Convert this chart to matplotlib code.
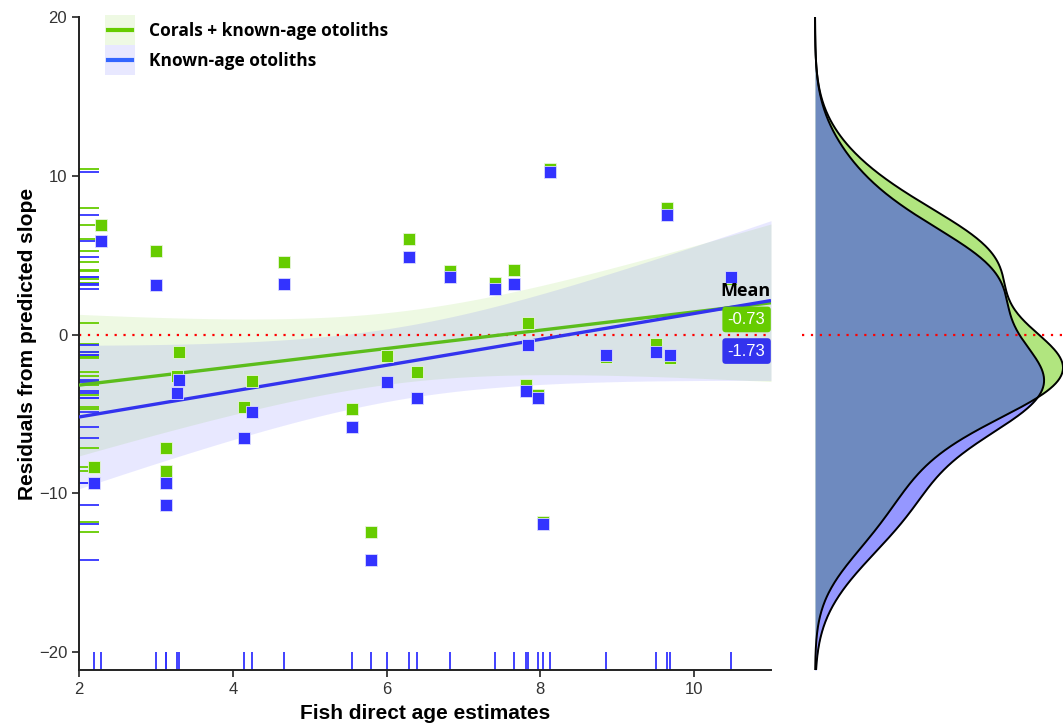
import numpy as np
import matplotlib
matplotlib.use("Agg")
from matplotlib import pyplot as plt
from matplotlib.patches import Rectangle
from matplotlib.lines import Line2D

# fish direct age estimates (x) and residuals for the two calibrations
age = [2.20, 2.29, 3.00, 3.13, 3.13, 3.28, 3.30, 4.14, 4.25, 4.66,
       5.55, 5.80, 6.00, 6.29, 6.40, 6.82, 7.41, 7.66, 7.81, 7.84,
       7.97, 8.03, 8.13, 8.85, 9.50, 9.65, 9.68, 10.48]
res_corals = [-8.36, 6.87, 5.29, -7.16, -8.61, -2.60, -1.07, -4.54, -2.90, 4.56,
              -4.68, -12.45, -1.34, 5.99, -2.37, 4.00, 3.24, 4.07, -3.19, 0.71,
              -3.82, -11.80, 10.45, -1.40, -0.59, 8.00, -1.45, 3.50]
res_known = [-9.35, 5.88, 3.09, -9.35, -10.73, -3.70, -2.84, -6.51, -4.91, 3.21,
             -5.84, -14.18, -3.00, 4.91, -3.97, 3.65, 2.86, 3.19, -3.53, -0.63,
             -3.97, -11.91, 10.23, -1.32, -1.07, 7.56, -1.32, 3.65]
series_names = ["Corals + known-age otoliths", "Known-age otoliths"]
mean_labels = [-0.73, -1.73]

green = "#66cc00"
blue = "#3333ff"
green_line = "#5cbd1c"
blue_line = "#3333ee"


class KeyHandler:
    # shaded key box with a line through its middle
    def __init__(self, fill, line):
        self.fill, self.line = fill, line

    def legend_artist(self, legend, orig_handle, fontsize, handlebox):
        x0, y0 = -handlebox.xdescent, -handlebox.ydescent
        w, h = handlebox.width, handlebox.height
        t = handlebox.get_transform()
        rect = Rectangle((x0, y0), w, h, fc=self.fill, alpha=0.11, lw=0, transform=t)
        ln = Line2D([x0 + 0.1 * w, x0 + 0.9 * w], [y0 + h / 2] * 2, color=self.line, lw=3, transform=t)
        handlebox.add_artist(rect)
        handlebox.add_artist(ln)
        return rect


W, H = 1063, 725
fig = plt.figure(figsize=(W / 100, H / 100), dpi=100)
ax = fig.add_axes([79 / W, 55 / H, 692 / W, 653 / H])
ax2 = fig.add_axes([802 / W, 55 / H, 261 / W, 653 / H])

x = np.array(age)
xs = np.linspace(2, 11, 200)
for ys, col, lcol in [(res_corals, green, green_line), (res_known, blue, blue_line)]:
    y = np.array(ys)
    b, a = np.polyfit(x, y, 1)
    fit = a + b * xs
    n = len(x)
    s = np.sqrt(np.sum((y - (a + b * x)) ** 2) / (n - 2))
    se = s * np.sqrt(1 / n + (xs - x.mean()) ** 2 / np.sum((x - x.mean()) ** 2))
    ax.fill_between(xs, fit - 2.056 * se, fit + 2.056 * se, color=col, alpha=0.11, lw=0, zorder=1)
    ax.plot(xs, fit, color=lcol, lw=2.4, zorder=3, solid_capstyle="butt")

ax.axhline(0, color="red", ls=(0, (1, 3)), lw=1.6, zorder=2)

# rugs
tx = ax.get_xaxis_transform()
ty = ax.get_yaxis_transform()
ax.hlines(res_corals, 0, 0.029, transform=ty, color=green, lw=1.3, zorder=2)
ax.hlines(res_known, 0, 0.029, transform=ty, color=blue, lw=1.3, zorder=2)
ax.vlines(age, 0.0, 0.028, transform=tx, color=blue, lw=1.3, zorder=2)

ax.scatter(age, res_corals, marker="s", s=80, color=green, edgecolor="#e8f5dc", linewidth=0.6, zorder=4)
ax.scatter(age, res_known, marker="s", s=80, color=blue, edgecolor="#dcdcff", linewidth=0.6, zorder=5)

ax.set_xlim(2, 11)
ax.set_ylim(-21.13, 20)
ax.set_xticks([2, 4, 6, 8, 10])
ax.set_yticks([-20, -10, 0, 10, 20])
for sp in ["top", "right"]:
    ax.spines[sp].set_visible(False)
for sp in ["left", "bottom"]:
    ax.spines[sp].set_linewidth(1.4)
    ax.spines[sp].set_color("#222222")
ax.tick_params(length=5, width=1.2, color="#222222", labelsize=12, labelcolor="#333333")
for lab in ax.get_xticklabels() + ax.get_yticklabels():
    lab.set_family("Liberation Sans")
ax.set_xlabel("Fish direct age estimates", fontsize=15, fontweight="bold",
              family="Liberation Sans", labelpad=5)
ax.set_ylabel("Residuals from predicted slope", fontsize=15, fontweight="bold",
              family="Liberation Sans", labelpad=1)

# legend
keys = ["corals", "known"]
ax.legend(keys, series_names, loc="upper left", bbox_to_anchor=(0.0376, 1.003),
          handler_map={"corals": KeyHandler(green, green), "known": KeyHandler(blue, "#3366ff")},
          frameon=False, borderpad=0, labelspacing=0, handlelength=1.75, handleheight=2.3,
          handletextpad=0.8, borderaxespad=0,
          prop={"family": "Open Sans", "weight": "bold", "size": 12.5})

# mean labels
ax.text(0.999, 2.75, "Mean", transform=ty, ha="right", va="center", fontsize=13,
        fontweight="bold", family="Open Sans", zorder=6)
for m, yy, col in [(mean_labels[0], 0.95, green), (mean_labels[1], -1.04, blue_line)]:
    ax.text(0.992, yy, f"{m:.2f}", transform=ty, ha="right", va="center", fontsize=12,
            color="white", family="Liberation Sans", zorder=6,
            bbox=dict(boxstyle="round,pad=0.32,rounding_size=0.2", fc=col, ec="none"))

# density panel (bandwidth as R's bw.nrd0)
def kde(vals, grid):
    v = np.array(vals)
    iqr = np.subtract(*np.percentile(v, [75, 25]))
    bw = 0.9 * min(v.std(ddof=1), iqr / 1.34) * len(v) ** (-1 / 5)
    z = (grid[:, None] - v[None, :]) / bw
    return np.exp(-0.5 * z ** 2).sum(axis=1) / (len(v) * bw * np.sqrt(2 * np.pi))

grid = np.linspace(-21.13, 20, 500)
dg = kde(res_corals, grid)
db = kde(res_known, grid)
ax2.fill_betweenx(grid, 0, dg, color="#64cd00", alpha=0.5, lw=0)
ax2.fill_betweenx(grid, 0, db, color="#2d31ff", alpha=0.5, lw=0)
ax2.plot(dg, grid, color="black", lw=1.4)
ax2.plot(db, grid, color="black", lw=1.4)
ax2.axhline(0, color="red", ls=(0, (1, 3)), lw=1.6)
top = max(dg.max(), db.max())
ax2.set_xlim(-top * 13 / 248, top * 1.0)
ax2.set_ylim(-21.13, 20)
ax2.axis("off")

fig.savefig("out.png", dpi=100)
